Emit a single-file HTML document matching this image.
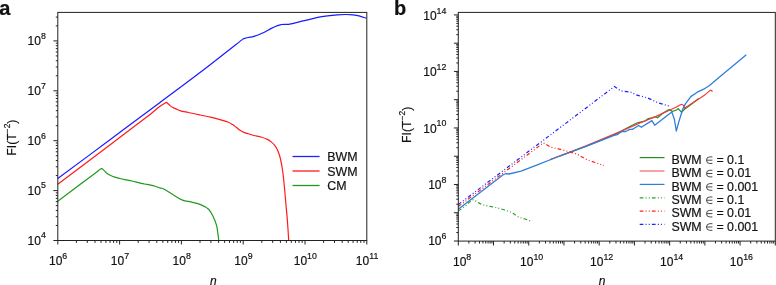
<!DOCTYPE html>
<html><head><meta charset="utf-8"><style>
html,body{margin:0;padding:0;background:#fff;width:776px;height:285px;overflow:hidden}
svg{display:block;will-change:transform}
</style></head><body>
<svg width="776" height="285" viewBox="0 0 776 285">
<rect width="776" height="285" fill="#fff"/>
<path d="M57.80,201.20 C64.42,196.23 90.88,176.37 97.50,171.40 C98.13,170.95 100.22,168.87 101.30,168.70 C102.38,168.53 103.18,169.73 104.00,170.40 C104.82,171.07 105.17,171.88 106.20,172.70 C107.23,173.52 108.58,174.52 110.20,175.30 C111.82,176.08 114.27,176.87 115.90,177.40 C117.53,177.93 118.48,178.13 120.00,178.50 C121.52,178.87 123.00,179.18 125.00,179.60 C127.00,180.02 129.50,180.42 132.00,181.00 C134.50,181.58 137.88,182.60 140.00,183.10 C142.12,183.60 142.52,183.58 144.70,184.00 C146.88,184.42 150.55,184.95 153.10,185.60 C155.65,186.25 158.17,187.30 160.00,187.90 C161.83,188.50 161.90,188.05 164.10,189.20 C166.30,190.35 170.15,192.98 173.20,194.80 C176.25,196.62 179.35,198.88 182.40,200.10 C185.45,201.32 188.47,201.35 191.50,202.10 C194.53,202.85 197.75,203.42 200.60,204.60 C203.45,205.78 206.52,207.22 208.60,209.20 C210.68,211.18 211.77,213.77 213.10,216.50 C214.43,219.23 215.65,221.60 216.60,225.60 C217.55,229.60 218.43,238.02 218.80,240.50" fill="none" stroke="#1f9a1f" stroke-width="1.2" stroke-linejoin="round"/>
<path d="M57.80,184.30 C73.17,172.68 134.63,126.22 150.00,114.60 C151.67,113.22 157.27,108.35 160.00,106.30 C162.73,104.25 165.33,102.97 166.40,102.30 C167.02,102.85 169.02,104.72 170.10,105.60 C171.18,106.48 171.92,107.05 172.90,107.60 C173.88,108.15 174.73,108.37 176.00,108.90 C177.27,109.43 178.43,110.20 180.50,110.80 C182.57,111.40 185.23,111.83 188.40,112.50 C191.57,113.17 195.82,114.02 199.50,114.80 C203.18,115.58 207.08,116.40 210.50,117.20 C213.92,118.00 217.10,118.80 220.00,119.60 C222.90,120.40 225.80,121.17 227.90,122.00 C230.00,122.83 231.25,123.75 232.60,124.60 C233.95,125.45 234.77,126.17 236.00,127.10 C237.23,128.03 238.67,129.32 240.00,130.20 C241.33,131.08 242.60,131.80 244.00,132.40 C245.40,133.00 246.73,133.28 248.40,133.80 C250.07,134.32 251.90,134.97 254.00,135.50 C256.10,136.03 258.77,136.35 261.00,137.00 C263.23,137.65 265.70,138.58 267.40,139.40 C269.10,140.22 270.02,140.93 271.20,141.90 C272.38,142.87 273.47,143.90 274.50,145.20 C275.53,146.50 276.58,148.07 277.40,149.70 C278.22,151.33 278.83,153.20 279.40,155.00 C279.97,156.80 280.33,158.33 280.80,160.50 C281.27,162.67 281.77,165.25 282.20,168.00 C282.63,170.75 283.00,173.50 283.40,177.00 C283.80,180.50 284.17,184.33 284.60,189.00 C285.03,193.67 285.52,199.50 286.00,205.00 C286.48,210.50 287.05,216.08 287.50,222.00 C287.95,227.92 288.50,237.42 288.70,240.50" fill="none" stroke="#ff1a1a" stroke-width="1.2" stroke-linejoin="round"/>
<path d="M57.80,178.60 C66.50,172.12 92.97,152.38 110.00,139.70 C127.03,127.02 145.00,113.68 160.00,102.50 C175.00,91.32 186.08,83.25 200.00,72.60 C213.92,61.95 236.25,44.27 243.50,38.60 C244.32,38.42 246.65,37.87 248.40,37.50 C250.15,37.13 251.73,37.10 254.00,36.40 C256.27,35.70 259.12,34.63 262.00,33.30 C264.88,31.97 268.98,29.57 271.30,28.40 C273.62,27.23 274.23,26.95 275.90,26.30 C277.57,25.65 280.40,24.80 281.30,24.50 C282.47,24.48 287.13,24.42 288.30,24.40 C289.32,24.18 292.12,23.63 294.40,23.10 C296.68,22.57 299.77,21.75 302.00,21.20 C304.23,20.65 305.18,20.43 307.80,19.80 C310.42,19.17 314.42,18.05 317.70,17.40 C320.98,16.75 324.23,16.32 327.50,15.90 C330.77,15.48 334.35,15.13 337.30,14.90 C340.25,14.67 342.57,14.52 345.20,14.50 C347.83,14.48 350.80,14.58 353.10,14.80 C355.40,15.02 356.80,15.22 359.00,15.80 C361.20,16.38 365.08,17.88 366.30,18.30" fill="none" stroke="#1a1aff" stroke-width="1.2" stroke-linejoin="round"/>
<rect x="57.8" y="12.4" width="309.00" height="228.10" fill="none" stroke="#222" stroke-width="1"/>
<path d="M57.80,240.5 v4.0 M76.40,240.5 v2.4 M87.29,240.5 v2.4 M95.01,240.5 v2.4 M101.00,240.5 v2.4 M105.89,240.5 v2.4 M110.03,240.5 v2.4 M113.61,240.5 v2.4 M116.77,240.5 v2.4 M119.60,240.5 v4.0 M138.20,240.5 v2.4 M149.09,240.5 v2.4 M156.81,240.5 v2.4 M162.80,240.5 v2.4 M167.69,240.5 v2.4 M171.83,240.5 v2.4 M175.41,240.5 v2.4 M178.57,240.5 v2.4 M181.40,240.5 v4.0 M200.00,240.5 v2.4 M210.89,240.5 v2.4 M218.61,240.5 v2.4 M224.60,240.5 v2.4 M229.49,240.5 v2.4 M233.63,240.5 v2.4 M237.21,240.5 v2.4 M240.37,240.5 v2.4 M243.20,240.5 v4.0 M261.80,240.5 v2.4 M272.69,240.5 v2.4 M280.41,240.5 v2.4 M286.40,240.5 v2.4 M291.29,240.5 v2.4 M295.43,240.5 v2.4 M299.01,240.5 v2.4 M302.17,240.5 v2.4 M305.00,240.5 v4.0 M323.60,240.5 v2.4 M334.49,240.5 v2.4 M342.21,240.5 v2.4 M348.20,240.5 v2.4 M353.09,240.5 v2.4 M357.23,240.5 v2.4 M360.81,240.5 v2.4 M363.97,240.5 v2.4 M366.80,240.5 v4.0" stroke="#222" stroke-width="1" fill="none"/>
<path d="M57.8,240.50 h-4.4 M57.8,225.48 h-2.0 M57.8,216.69 h-2.0 M57.8,210.46 h-2.0 M57.8,205.62 h-2.0 M57.8,201.67 h-2.0 M57.8,198.33 h-2.0 M57.8,195.44 h-2.0 M57.8,192.88 h-2.0 M57.8,190.60 h-4.4 M57.8,175.58 h-2.0 M57.8,166.79 h-2.0 M57.8,160.56 h-2.0 M57.8,155.72 h-2.0 M57.8,151.77 h-2.0 M57.8,148.43 h-2.0 M57.8,145.54 h-2.0 M57.8,142.98 h-2.0 M57.8,140.70 h-4.4 M57.8,125.68 h-2.0 M57.8,116.89 h-2.0 M57.8,110.66 h-2.0 M57.8,105.82 h-2.0 M57.8,101.87 h-2.0 M57.8,98.53 h-2.0 M57.8,95.64 h-2.0 M57.8,93.08 h-2.0 M57.8,90.80 h-4.4 M57.8,75.78 h-2.0 M57.8,66.99 h-2.0 M57.8,60.76 h-2.0 M57.8,55.92 h-2.0 M57.8,51.97 h-2.0 M57.8,48.63 h-2.0 M57.8,45.74 h-2.0 M57.8,43.18 h-2.0 M57.8,40.90 h-4.4 M57.8,25.88 h-2.0 M57.8,17.09 h-2.0" stroke="#222" stroke-width="1" fill="none"/>
<path d="M292.5,156.5 H319.6" stroke="#2222ff" stroke-width="1.3"/>
<path d="M292.5,171 H319.6" stroke="#ff6a6a" stroke-width="2"/>
<path d="M292.5,185.5 H319.6" stroke="#1f9a1f" stroke-width="1.3"/>
<g font-family="Liberation Sans, sans-serif" stroke="#111" stroke-width="0.18" font-size="12" fill="#111">
<text x="327.3" y="161.1" font-size="12.4">BWM</text>
<text x="327.3" y="175.7" font-size="12.4">SWM</text>
<text x="327.3" y="189.6" font-size="12.4">CM</text>
</g>
<g font-family="Liberation Sans, sans-serif" stroke="#111" stroke-width="0.18" font-size="12" fill="#111">
<text x="58.10" y="265.30" text-anchor="middle">10<tspan dy="-6.4" font-size="8.8">6</tspan></text>
<text x="119.90" y="265.30" text-anchor="middle">10<tspan dy="-6.4" font-size="8.8">7</tspan></text>
<text x="181.70" y="265.30" text-anchor="middle">10<tspan dy="-6.4" font-size="8.8">8</tspan></text>
<text x="243.50" y="265.30" text-anchor="middle">10<tspan dy="-6.4" font-size="8.8">9</tspan></text>
<text x="305.30" y="265.30" text-anchor="middle">10<tspan dy="-6.4" font-size="8.8">10</tspan></text>
<text x="367.10" y="265.30" text-anchor="middle">10<tspan dy="-6.4" font-size="8.8">11</tspan></text>
<text x="45.80" y="244.70" text-anchor="end">10<tspan dy="-6.4" font-size="8.8">4</tspan></text>
<text x="45.80" y="194.80" text-anchor="end">10<tspan dy="-6.4" font-size="8.8">5</tspan></text>
<text x="45.80" y="144.90" text-anchor="end">10<tspan dy="-6.4" font-size="8.8">6</tspan></text>
<text x="45.80" y="95.00" text-anchor="end">10<tspan dy="-6.4" font-size="8.8">7</tspan></text>
<text x="45.80" y="45.10" text-anchor="end">10<tspan dy="-6.4" font-size="8.8">8</tspan></text>
<text x="213.3" y="285.1" font-style="italic" text-anchor="middle">n</text>
<text transform="translate(16.4,155.8) rotate(-90)" font-size="12.3">FI(T<tspan dy="-6.5" font-size="8.4">−2</tspan><tspan dy="6.5">)</tspan></text>
</g>
<text x="-0.7" y="14.7" font-family="Liberation Sans, sans-serif" stroke="#111" stroke-width="0.18" font-size="20" font-weight="bold" fill="#111">a</text>
<polyline points="560.00,156.00 586.00,146.30 616.00,134.20 622.40,130.50 629.80,126.50 637.00,123.00 639.20,122.40 644.00,121.40 648.40,118.50 651.90,117.80 655.40,116.80 657.50,117.80 662.50,113.50 668.00,110.00 669.50,109.60 672.30,111.50 676.50,110.00 678.20,108.60 681.40,112.20 684.50,109.20 690.00,105.20 698.70,98.60" fill="none" stroke="#1f8f1f" stroke-width="1.2" stroke-linejoin="round"/>
<polyline points="550.00,159.60 570.00,152.00 586.00,145.80 616.00,133.40 640.00,123.00 656.00,116.40 670.00,110.00 676.00,107.20 681.40,104.30 683.50,105.20 684.50,108.30 704.00,95.60 710.50,90.10 712.60,91.60" fill="none" stroke="#f23a3a" stroke-width="1.2" stroke-linejoin="round"/>
<polyline points="458.30,209.30 503.50,174.50 506.20,173.70 508.80,174.00 521.10,171.10 536.00,165.40 556.00,157.50 586.00,146.40 614.00,135.40 617.20,134.60 620.30,132.50 622.40,131.50 625.60,131.50 629.80,129.40 632.40,129.40 635.00,127.80 638.70,125.50 641.40,127.30 642.10,126.80 651.90,120.60 654.70,125.20 671.80,111.90 674.40,119.50 676.30,131.00 678.60,122.70 680.00,118.00 682.90,108.80 685.60,103.60 690.80,96.60 697.20,92.20 703.70,89.20 709.50,85.50 721.00,75.80 733.70,65.30 746.30,54.70" fill="none" stroke="#2f7fd8" stroke-width="1.3" stroke-linejoin="round"/>
<polyline points="458.30,211.00 465.70,205.80 471.50,200.30 473.30,199.70 476.00,201.10 480.00,203.60 484.60,205.30 490.00,206.40 497.40,207.90 504.70,210.00 510.00,211.80 513.50,213.60 516.50,215.90 520.00,217.60 526.80,219.50 531.80,221.50" fill="none" stroke="#2aa02a" stroke-width="1.2" stroke-dasharray="3.7 2.2 1 2.1 1 2.2"/>
<polyline points="458.30,206.60 543.50,142.80 550.40,147.20 557.40,148.60 568.60,151.60 577.00,154.10 585.50,159.00 593.90,162.10 604.00,165.50" fill="none" stroke="#ff2020" stroke-width="1.2" stroke-dasharray="3.7 2.2 1 2.1 1 2.2"/>
<polyline points="458.30,204.60 614.40,86.50 619.70,90.20 622.50,91.10 630.50,92.10 637.00,95.20 647.60,97.90 658.10,102.80 670.80,106.60" fill="none" stroke="#2020ff" stroke-width="1.2" stroke-dasharray="3.7 2.2 1 2.1 1 2.2"/>
<rect x="458.3" y="12.4" width="317.00" height="228.70" fill="none" stroke="#222" stroke-width="1"/>
<path d="M458.30,241.1 v4.4 M468.90,241.1 v2.4 M475.11,241.1 v2.4 M479.51,241.1 v2.4 M482.92,241.1 v2.4 M485.71,241.1 v2.4 M488.07,241.1 v2.4 M490.11,241.1 v2.4 M491.91,241.1 v2.4 M493.52,241.1 v4.4 M504.13,241.1 v2.4 M510.33,241.1 v2.4 M514.73,241.1 v2.4 M518.14,241.1 v2.4 M520.93,241.1 v2.4 M523.29,241.1 v2.4 M525.33,241.1 v2.4 M527.13,241.1 v2.4 M528.74,241.1 v4.4 M539.35,241.1 v2.4 M545.55,241.1 v2.4 M549.95,241.1 v2.4 M553.36,241.1 v2.4 M556.15,241.1 v2.4 M558.51,241.1 v2.4 M560.55,241.1 v2.4 M562.35,241.1 v2.4 M563.97,241.1 v4.4 M574.57,241.1 v2.4 M580.77,241.1 v2.4 M585.17,241.1 v2.4 M588.59,241.1 v2.4 M591.37,241.1 v2.4 M593.73,241.1 v2.4 M595.78,241.1 v2.4 M597.58,241.1 v2.4 M599.19,241.1 v4.4 M609.79,241.1 v2.4 M615.99,241.1 v2.4 M620.39,241.1 v2.4 M623.81,241.1 v2.4 M626.60,241.1 v2.4 M628.96,241.1 v2.4 M631.00,241.1 v2.4 M632.80,241.1 v2.4 M634.41,241.1 v4.4 M645.01,241.1 v2.4 M651.22,241.1 v2.4 M655.62,241.1 v2.4 M659.03,241.1 v2.4 M661.82,241.1 v2.4 M664.18,241.1 v2.4 M666.22,241.1 v2.4 M668.02,241.1 v2.4 M669.63,241.1 v4.4 M680.24,241.1 v2.4 M686.44,241.1 v2.4 M690.84,241.1 v2.4 M694.25,241.1 v2.4 M697.04,241.1 v2.4 M699.40,241.1 v2.4 M701.44,241.1 v2.4 M703.24,241.1 v2.4 M704.86,241.1 v4.4 M715.46,241.1 v2.4 M721.66,241.1 v2.4 M726.06,241.1 v2.4 M729.47,241.1 v2.4 M732.26,241.1 v2.4 M734.62,241.1 v2.4 M736.66,241.1 v2.4 M738.47,241.1 v2.4 M740.08,241.1 v4.4 M750.68,241.1 v2.4 M756.88,241.1 v2.4 M761.28,241.1 v2.4 M764.70,241.1 v2.4 M767.49,241.1 v2.4 M769.84,241.1 v2.4 M771.89,241.1 v2.4 M773.69,241.1 v2.4 M775.30,241.1 v4.4" stroke="#222" stroke-width="1" fill="none"/>
<path d="M458.3,241.00 h-4.4 M458.3,232.49 h-2.0 M458.3,227.52 h-2.0 M458.3,223.99 h-2.0 M458.3,221.25 h-2.0 M458.3,219.01 h-2.0 M458.3,217.12 h-2.0 M458.3,215.48 h-2.0 M458.3,214.03 h-2.0 M458.3,212.74 h-4.4 M458.3,204.23 h-2.0 M458.3,199.26 h-2.0 M458.3,195.73 h-2.0 M458.3,192.99 h-2.0 M458.3,190.75 h-2.0 M458.3,188.86 h-2.0 M458.3,187.22 h-2.0 M458.3,185.77 h-2.0 M458.3,184.48 h-4.4 M458.3,175.97 h-2.0 M458.3,171.00 h-2.0 M458.3,167.47 h-2.0 M458.3,164.73 h-2.0 M458.3,162.49 h-2.0 M458.3,160.60 h-2.0 M458.3,158.96 h-2.0 M458.3,157.51 h-2.0 M458.3,156.22 h-4.4 M458.3,147.71 h-2.0 M458.3,142.74 h-2.0 M458.3,139.21 h-2.0 M458.3,136.47 h-2.0 M458.3,134.23 h-2.0 M458.3,132.34 h-2.0 M458.3,130.70 h-2.0 M458.3,129.25 h-2.0 M458.3,127.96 h-4.4 M458.3,119.45 h-2.0 M458.3,114.48 h-2.0 M458.3,110.95 h-2.0 M458.3,108.21 h-2.0 M458.3,105.97 h-2.0 M458.3,104.08 h-2.0 M458.3,102.44 h-2.0 M458.3,100.99 h-2.0 M458.3,99.70 h-4.4 M458.3,91.19 h-2.0 M458.3,86.22 h-2.0 M458.3,82.69 h-2.0 M458.3,79.95 h-2.0 M458.3,77.71 h-2.0 M458.3,75.82 h-2.0 M458.3,74.18 h-2.0 M458.3,72.73 h-2.0 M458.3,71.44 h-4.4 M458.3,62.93 h-2.0 M458.3,57.96 h-2.0 M458.3,54.43 h-2.0 M458.3,51.69 h-2.0 M458.3,49.45 h-2.0 M458.3,47.56 h-2.0 M458.3,45.92 h-2.0 M458.3,44.47 h-2.0 M458.3,43.18 h-4.4 M458.3,34.67 h-2.0 M458.3,29.70 h-2.0 M458.3,26.17 h-2.0 M458.3,23.43 h-2.0 M458.3,21.19 h-2.0 M458.3,19.30 h-2.0 M458.3,17.66 h-2.0 M458.3,16.21 h-2.0 M458.3,14.92 h-4.4" stroke="#222" stroke-width="1" fill="none"/>
<path d="M639.7,157.6 H664.5" stroke="#1f8f1f" stroke-width="1.2"/>
<path d="M639.7,171 H664.5" stroke="#f8a0a8" stroke-width="2"/>
<path d="M639.7,184.4 H664.5" stroke="#2f7fd8" stroke-width="1.2"/>
<path d="M639.7,197.9 H664.5" stroke="#2aa02a" stroke-width="1.2" stroke-dasharray="3.7 2.2 1 2.1 1 2.2"/>
<path d="M639.7,211.2 H664.5" stroke="#ff2020" stroke-width="1.2" stroke-dasharray="3.7 2.2 1 2.1 1 2.2"/>
<path d="M639.7,224.4 H664.5" stroke="#2020ff" stroke-width="1.2" stroke-dasharray="3.7 2.2 1 2.1 1 2.2"/>
<g font-family="Liberation Sans, sans-serif" stroke="#111" stroke-width="0.18" font-size="12" fill="#111">
<text x="671.4" y="163.80" font-size="12.4">BWM</text>
<path d="M712.4,156.90 h-2.6 a3.3,3.3 0 0 0 0,6.6 h2.6 M706.6,160.20 h5.8" fill="none" stroke="#333" stroke-width="0.9"/>
<text x="716.4" y="163.80" font-size="12.4">= 0.1</text>
<text x="671.4" y="177.16" font-size="12.4">BWM</text>
<path d="M712.4,170.26 h-2.6 a3.3,3.3 0 0 0 0,6.6 h2.6 M706.6,173.56 h5.8" fill="none" stroke="#333" stroke-width="0.9"/>
<text x="716.4" y="177.16" font-size="12.4">= 0.01</text>
<text x="671.4" y="190.52" font-size="12.4">BWM</text>
<path d="M712.4,183.62 h-2.6 a3.3,3.3 0 0 0 0,6.6 h2.6 M706.6,186.92 h5.8" fill="none" stroke="#333" stroke-width="0.9"/>
<text x="716.4" y="190.52" font-size="12.4">= 0.001</text>
<text x="671.4" y="203.88" font-size="12.4">SWM</text>
<path d="M712.4,196.98 h-2.6 a3.3,3.3 0 0 0 0,6.6 h2.6 M706.6,200.28 h5.8" fill="none" stroke="#333" stroke-width="0.9"/>
<text x="716.4" y="203.88" font-size="12.4">= 0.1</text>
<text x="671.4" y="217.24" font-size="12.4">SWM</text>
<path d="M712.4,210.34 h-2.6 a3.3,3.3 0 0 0 0,6.6 h2.6 M706.6,213.64 h5.8" fill="none" stroke="#333" stroke-width="0.9"/>
<text x="716.4" y="217.24" font-size="12.4">= 0.01</text>
<text x="671.4" y="230.60" font-size="12.4">SWM</text>
<path d="M712.4,223.70 h-2.6 a3.3,3.3 0 0 0 0,6.6 h2.6 M706.6,227.00 h5.8" fill="none" stroke="#333" stroke-width="0.9"/>
<text x="716.4" y="230.60" font-size="12.4">= 0.001</text>
</g>
<g font-family="Liberation Sans, sans-serif" stroke="#111" stroke-width="0.18" font-size="12" fill="#111">
<text x="462.10" y="266.00" text-anchor="middle">10<tspan dy="-6.4" font-size="8.8">8</tspan></text>
<text x="531.70" y="266.00" text-anchor="middle">10<tspan dy="-6.4" font-size="8.8">10</tspan></text>
<text x="601.60" y="266.00" text-anchor="middle">10<tspan dy="-6.4" font-size="8.8">12</tspan></text>
<text x="671.60" y="266.00" text-anchor="middle">10<tspan dy="-6.4" font-size="8.8">14</tspan></text>
<text x="741.40" y="266.00" text-anchor="middle">10<tspan dy="-6.4" font-size="8.8">16</tspan></text>
<text x="446.40" y="245.20" text-anchor="end">10<tspan dy="-6.4" font-size="8.8">6</tspan></text>
<text x="446.40" y="188.93" text-anchor="end">10<tspan dy="-6.4" font-size="8.8">8</tspan></text>
<text x="446.40" y="132.66" text-anchor="end">10<tspan dy="-6.4" font-size="8.8">10</tspan></text>
<text x="446.40" y="76.39" text-anchor="end">10<tspan dy="-6.4" font-size="8.8">12</tspan></text>
<text x="446.40" y="20.12" text-anchor="end">10<tspan dy="-6.4" font-size="8.8">14</tspan></text>
<text x="602.1" y="285.1" font-style="italic" text-anchor="middle">n</text>
<text transform="translate(411.2,142.9) rotate(-90)" font-size="12.3">FI(T<tspan dy="-6.5" font-size="8.4">−2</tspan><tspan dy="6.5">)</tspan></text>
</g>
<text x="394" y="14.7" font-family="Liberation Sans, sans-serif" stroke="#111" stroke-width="0.18" font-size="20" font-weight="bold" fill="#111">b</text>
</svg>
</body></html>
